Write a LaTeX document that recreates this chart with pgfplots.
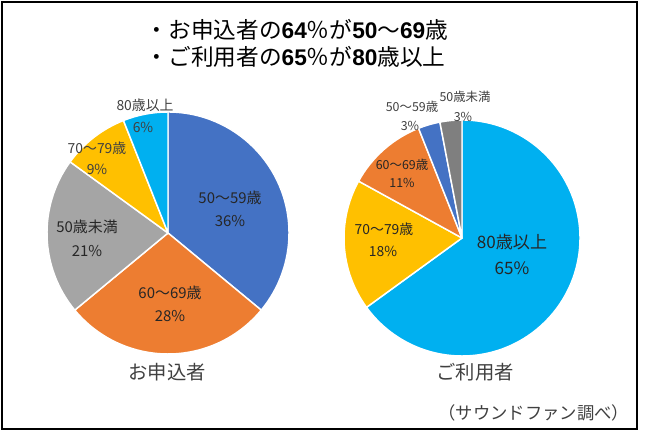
\documentclass[border=0pt]{standalone}
\usepackage{fontspec}
\usepackage{pgfplots}
\usepackage{pgfplotstable}
\pgfplotsset{compat=1.18}
\setmainfont{Noto Sans CJK JP}
\newfontfamily\arial{Liberation Sans}

\definecolor{cblue}{HTML}{4472C4}
\definecolor{corange}{HTML}{ED7D31}
\definecolor{cgrey}{HTML}{A5A5A5}
\definecolor{cgold}{HTML}{FFC000}
\definecolor{ccyan}{HTML}{00B0F0}
\definecolor{cdark}{HTML}{7F7F7F}
\definecolor{lbl}{HTML}{404040}
\definecolor{lblin}{HTML}{262626}

% share of each age group, clockwise from 12 o'clock
\pgfplotstableread{
val col
36  cblue
28  corange
21  cgrey
9   cgold
6   ccyan
}\applicants
\pgfplotstableread{
val col
65  ccyan
18  cgold
11  corange
3   cblue
3   cdark
}\users

% #1 table, #2 #3 centre (axis units), #4 radius
\newcommand{\pieslices}[4]{%
  \def\startang{90}%
  \pgfplotstablegetrowsof{#1}%
  \pgfmathtruncatemacro\lastrow{\pgfplotsretval-1}%
  \pgfplotsforeachungrouped \rowidx in {0,...,\lastrow}{%
    \pgfplotstablegetelem{\rowidx}{val}\of{#1}\let\sliceval\pgfplotsretval
    \pgfplotstablegetelem{\rowidx}{col}\of{#1}\let\slicecol\pgfplotsretval
    \pgfmathsetmacro\endang{\startang-3.6*\sliceval}%
    \edef\temp{\noexpand\filldraw[fill=\slicecol,draw=white,line width=1.1pt,line join=round]
      (axis cs:#2,#3) -- ++(\startang:#4) arc[start angle=\startang,end angle=\endang,radius=#4] -- cycle;}%
    \temp
    \let\startang\endang
  }%
}

\begin{document}
\begin{tikzpicture}
\begin{axis}[
    scale only axis,
    width=487.5pt, height=325.5pt,
    xmin=0, xmax=650, ymin=0, ymax=434,
    hide axis, clip=false,
  ]
  \path (axis cs:0,0) rectangle (axis cs:650,434);
  \draw[black, line width=1.3pt] (axis cs:2,432) rectangle (axis cs:637,5);

  \pieslices{\applicants}{168}{201}{90.75pt}
  \pieslices{\users}{462}{196}{88.5pt}

  % title
  \node[anchor=west, font=\fontsize{17}{19}\selectfont] at (axis cs:141,404)
    {・お申込者の{\arial\bfseries 64}％が{\arial\bfseries 50}～{\arial\bfseries 69}歳};
  \node[anchor=west, font=\fontsize{17}{19}\selectfont] at (axis cs:141,377)
    {・ご利用者の{\arial\bfseries 65}％が{\arial\bfseries 80}歳以上};

  % left pie labels
  \begin{scope}[every node/.style={font=\fontsize{10.4}{12}\selectfont, text=lbl}]
    \node at (axis cs:145,329) {80歳以上};
    \node at (axis cs:143,307) {6\%};
    \node at (axis cs:97,286) {70～79歳};
    \node at (axis cs:97,265) {9\%};
  \end{scope}
  \begin{scope}[every node/.style={font=\fontsize{11.2}{13}\selectfont, text=lblin}]
    \node at (axis cs:230,236) {50～59歳};
    \node at (axis cs:230,213) {36\%};
    \node at (axis cs:87,207) {50歳未満};
    \node at (axis cs:87,183) {21\%};
    \node at (axis cs:170,141) {60～69歳};
    \node at (axis cs:170,118) {28\%};
  \end{scope}
  \node[font=\fontsize{14.5}{16}\selectfont, text=lbl] at (axis cs:167,62) {お申込者};

  % right pie labels
  \begin{scope}[every node/.style={font=\fontsize{9.3}{11}\selectfont, text=lbl}]
    \node at (axis cs:465,337) {50歳未満};
    \node at (axis cs:463,317) {3\%};
    \node at (axis cs:412,327) {50～59歳};
    \node at (axis cs:410,308) {3\%};
    \node[text=lblin] at (axis cs:402,269) {60～69歳};
    \node[text=lblin] at (axis cs:402,251) {11\%};
  \end{scope}
  \begin{scope}[every node/.style={font=\fontsize{10.4}{12}\selectfont, text=lblin}]
    \node at (axis cs:384,205) {70～79歳};
    \node at (axis cs:383,183) {18\%};
  \end{scope}
  \begin{scope}[every node/.style={font=\fontsize{12.8}{15}\selectfont, text=lblin}]
    \node at (axis cs:512,192) {80歳以上};
    \node at (axis cs:512,166) {65\%};
  \end{scope}
  \node[font=\fontsize{14.5}{16}\selectfont, text=lbl] at (axis cs:475,62) {ご利用者};

  \node[anchor=east, font=\fontsize{13}{15}\selectfont, text=lbl] at (axis cs:634,21)
    {（サウンドファン調べ）};
\end{axis}
\end{tikzpicture}
\end{document}
